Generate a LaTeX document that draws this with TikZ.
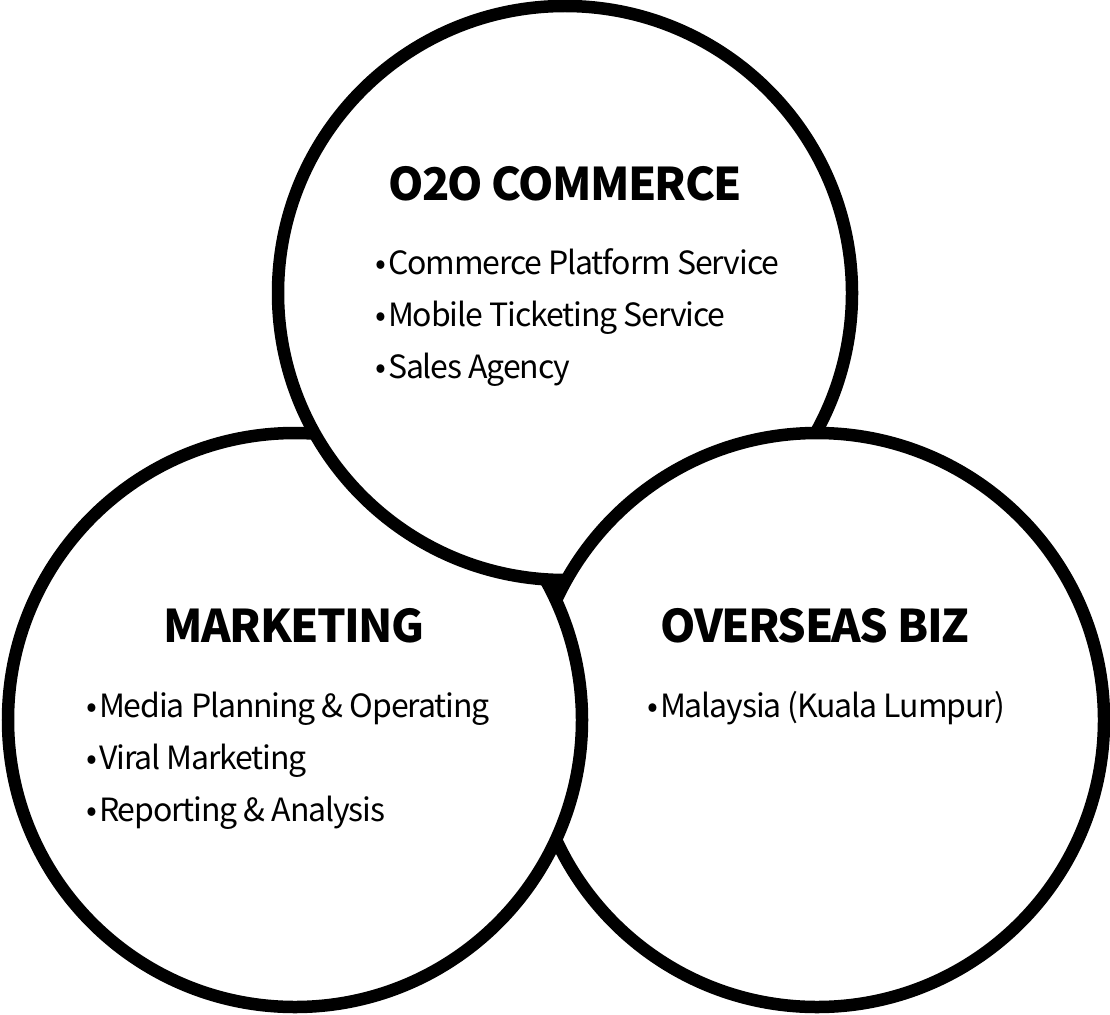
\documentclass[tikz,border=0pt]{standalone}
\usepackage{fontspec}
\setmainfont[LetterSpace=-3.5]{Noto Sans CJK KR}
\usetikzlibrary{positioning}

\newcommand\itm{\textbullet\hspace{2pt}}
\newcommand\ringrad{287}

\begin{document}
\begin{tikzpicture}[x=1pt, y=-1pt,
  ring/.style={line width=12.5pt},
  heading/.style={font=\fontsize{45}{54}\selectfont\bfseries, inner sep=0pt, anchor=base},
  item/.style={font=\fontsize{32}{40}\selectfont, inner sep=0pt, anchor=base west}
]
\useasboundingbox (0,0) rectangle (1110,1014);

\coordinate (ctop) at (565,293);
\coordinate (cleft) at (295,720);
\coordinate (cright) at (817,720);

% each ring hides under the next one round the cycle
\begin{scope}[even odd rule]
  \clip (0,0) rectangle (1110,1014) (ctop) circle[radius=\ringrad];
  \draw[ring] (cleft) circle[radius=\ringrad];
\end{scope}
\begin{scope}[even odd rule]
  \clip (0,0) rectangle (1110,1014) (cright) circle[radius=\ringrad];
  \draw[ring] (ctop) circle[radius=\ringrad];
\end{scope}
\begin{scope}[even odd rule]
  \clip (0,0) rectangle (1110,1014) (cleft) circle[radius=\ringrad];
  \draw[ring] (cright) circle[radius=\ringrad];
\end{scope}

\node[heading] (o2o) at (565,200) {O2O COMMERCE};
\node[item] (o2o1) at (375,274) {\itm Commerce Platform Service};
\node[item] (o2o2) at (375,326) {\itm Mobile Ticketing Service};
\node[item] (o2o3) at (375,378) {\itm Sales Agency};

\node[heading] (mkt) at (294,642) {MARKETING};
\node[item] (mkt1) at (86,717) {\itm Media Planning \& Operating};
\node[item] (mkt2) at (86,769) {\itm Viral Marketing};
\node[item] (mkt3) at (86,821) {\itm Reporting \& Analysis};

\node[heading] (biz) at (815,642) {OVERSEAS BIZ};
\node[item] (biz1) at (647,717) {\itm Malaysia (Kuala Lumpur)};
\end{tikzpicture}
\end{document}
